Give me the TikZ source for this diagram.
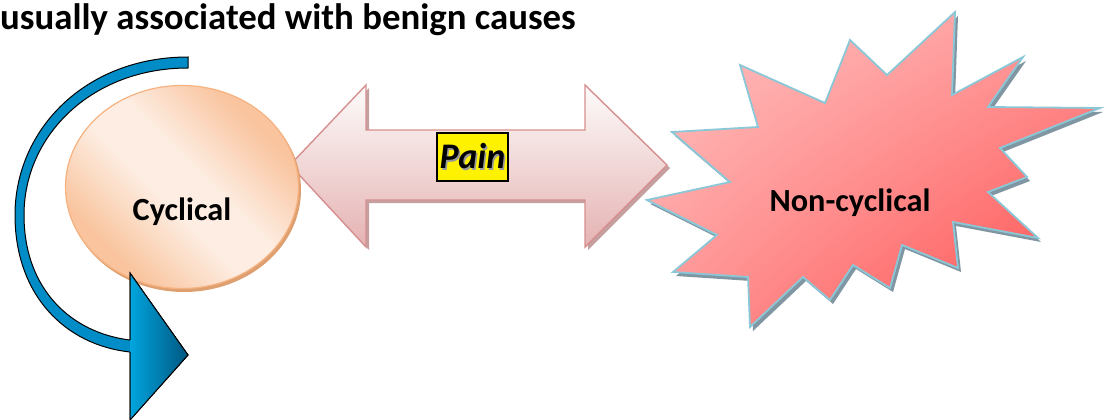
\documentclass[tikz,border=0pt]{standalone}
\usepackage{fontspec}
\setmainfont{Carlito}
\usetikzlibrary{positioning,calc,shapes.geometric,shadings}
\definecolor{PeachLight}{RGB}{253,237,226}
\definecolor{PeachDark}{RGB}{249,196,158}
\definecolor{PeachEdge}{RGB}{246,178,128}
\definecolor{PeachShadow}{RGB}{222,160,112}
\definecolor{PinkTop}{RGB}{253,251,251}
\definecolor{PinkBottom}{RGB}{229,178,178}
\definecolor{PinkEdge}{RGB}{214,143,143}
\definecolor{PinkShadow}{RGB}{196,160,160}
\definecolor{BurstLight}{RGB}{255,198,198}
\definecolor{BurstMid}{RGB}{255,150,150}
\definecolor{BurstDark}{RGB}{255,72,72}
\definecolor{BurstEdge}{RGB}{138,200,216}
\definecolor{BurstShadow}{RGB}{128,150,162}
\definecolor{BandBlue}{RGB}{0,140,198}
\definecolor{HeadLight}{RGB}{0,165,222}
\definecolor{HeadDark}{RGB}{0,86,128}
\pgfdeclarehorizontalshading{peachsh}{100bp}{color(0bp)=(PeachDark); color(28bp)=(PeachDark);
  color(45bp)=(PeachLight); color(55bp)=(PeachLight); color(72bp)=(PeachDark); color(100bp)=(PeachDark)}
\newcommand{\painarrow}{(290,165) -- (366,85) -- (366,130) -- (585,130) -- (585,85) -- (667,165)
  -- (585,247) -- (585,200) -- (366,200) -- (366,247) -- cycle}
\newcommand{\burstoutline}{(955,12) -- (952,95) -- (1023,57) -- (988,107) -- (1100,108) -- (1000,148)
  -- (1027,177) -- (988,192) -- (1038,238) -- (953,222) -- (958,268) -- (902,245) -- (890,288)
  -- (853,265) -- (830,300) -- (803,277) -- (750,327) -- (748,277) -- (673,272) -- (717,235)
  -- (647,200) -- (730,182) -- (672,132) -- (758,127) -- (740,65) -- (825,103) -- (850,40)
  -- (887,75) -- cycle}

\begin{document}
\begin{tikzpicture}[x=1pt, y=-1pt,
    cycbox/.style={ellipse, draw=PeachEdge, line width=1.2pt, shade, shading=peachsh,
                   shading angle=45, minimum width=233pt, minimum height=203pt, inner sep=0pt},
    lbltext/.style={font=\fontsize{32.3}{36}\selectfont\bfseries, text=black, inner sep=0pt},
    painbox/.style={draw=black, fill=yellow, line width=1.6pt, minimum width=71pt,
                    minimum height=48pt, inner sep=0pt,
                    font=\fontsize{36}{40}\selectfont\bfseries\itshape},
    arrowline/.style={draw=PinkEdge, line width=1.4pt, top color=PinkTop, bottom color=PinkBottom},
    burstline/.style={draw=BurstEdge, line width=1.8pt, upper left=BurstLight, lower right=BurstDark,
                      upper right=BurstMid, lower left=BurstMid}
  ]
  \useasboundingbox (0,0) rectangle (1108,420);

  % double arrow
  \fill[PinkShadow, shift={(3,3)}] \painarrow;
  \path[arrowline] \painarrow;

  % cyclical
  \fill[PeachShadow] (184,190) ellipse (117pt and 102pt);
  \node[cycbox] (cyc) at (182,187) {};
  \node[lbltext] (cyctxt) at (182,212) {Cyclical};

  % non-cyclical
  \fill[BurstShadow, shift={(3,4)}] \burstoutline;
  \path[burstline] \burstoutline;
  \node[lbltext] (noncyc) at (850,203) {Non-cyclical};

  \node[painbox] (pain) at (472.5,157)
    {\rlap{\hspace{1.5pt}\raisebox{-1.5pt}{\textcolor{black!40}{Pain}}}Pain};

  % curved arrow
  \filldraw[fill=BandBlue, draw=black, line width=1pt] (188,57) .. controls (85,57) and (15,130) .. (15,215)
    .. controls (15,295) and (65,345) .. (130,352) -- (130,420) -- (188,355) -- (130,273) -- (130,340)
    .. controls (72,333) and (24,290) .. (24,215) .. controls (24,135) and (92,68) .. (188,68) -- cycle;
  \shade[left color=HeadLight, right color=HeadDark] (130,273) -- (188,355) -- (130,420) -- cycle;
  \draw[black, line width=1pt] (130,352) -- (130,420) -- (188,355) -- (130,273) -- (130,340);

  \node[lbltext, anchor=base west, font=\fontsize{36.8}{40}\selectfont\bfseries] (title) at (0,30)
    {usually associated with benign causes};
\end{tikzpicture}
\end{document}
